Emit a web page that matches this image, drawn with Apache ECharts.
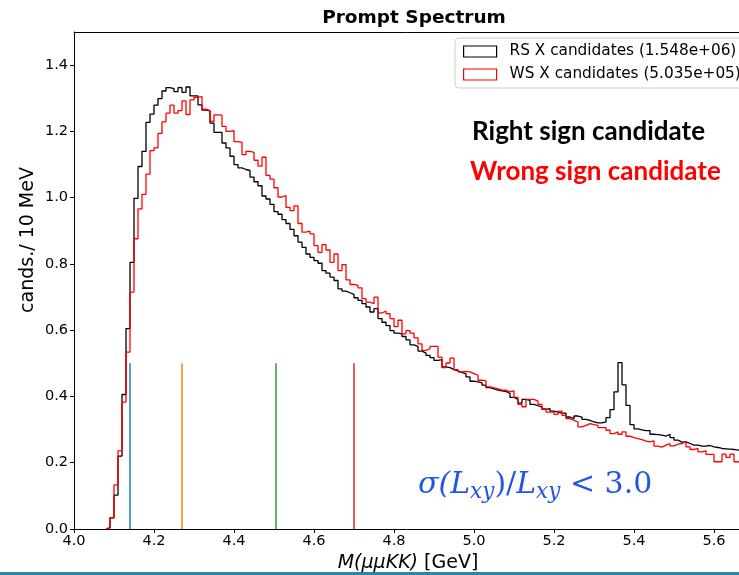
<!DOCTYPE html>
<html>
<head>
<meta charset="utf-8">
<script src="https://cdn.jsdelivr.net/npm/echarts@6/dist/echarts.min.js"></script>
<style>
html,body{margin:0;padding:0;background:#fff;}
#chart{width:739px;height:575px;}
</style>
</head>
<body>
<div id="chart"></div>
<script>
// ---- data ----
const binStart = 4.08;   // GeV, left edge of first bin
const binWidth = 0.01;   // 10 MeV
const rsCounts = [
  0.004,0.034,0.102,0.220,0.406,0.605,0.805,0.998,1.094,1.140,
  1.227,1.252,1.279,1.299,1.322,1.332,1.329,1.320,1.332,1.318,
  1.334,1.307,1.307,1.280,1.264,1.262,1.225,1.197,1.197,1.165,
  1.150,1.125,1.100,1.090,1.085,1.082,1.062,1.048,1.036,1.005,
  0.996,0.980,0.958,0.950,0.934,0.922,0.904,0.885,0.866,0.850,
  0.830,0.820,0.810,0.802,0.780,0.772,0.760,0.750,0.725,0.718,
  0.713,0.708,0.698,0.690,0.680,0.670,0.655,0.665,0.635,0.624,
  0.614,0.599,0.591,0.589,0.581,0.571,0.556,0.551,0.537,0.531,
  0.524,0.517,0.509,0.511,0.489,0.487,0.481,0.477,0.472,0.469,
  0.459,0.446,0.444,0.441,0.434,0.427,0.423,0.419,0.417,0.415,
  0.409,0.397,0.391,0.380,0.391,0.388,0.376,0.372,0.368,0.361,
  0.363,0.356,0.353,0.350,0.350,0.338,0.333,0.341,0.338,0.331,
  0.328,0.323,0.320,0.320,0.323,0.336,0.360,0.414,0.502,0.435,
  0.373,0.315,0.302,0.299,0.297,0.297,0.286,0.285,0.283,0.280,
  0.286,0.276,0.268,0.262,0.263,0.258,0.253,0.253,0.250,0.250,
  0.252,0.248,0.246,0.243,0.242,0.241,0.240,0.238,0.238
];
const wsCounts = [
  0.003,0.034,0.133,0.236,0.383,0.534,0.715,0.876,0.966,1.010,
  1.071,1.142,1.150,1.194,1.229,1.255,1.279,1.255,1.263,1.292,
  1.251,1.295,1.303,1.305,1.267,1.263,1.230,1.250,1.249,1.215,
  1.200,1.202,1.169,1.167,1.130,1.140,1.137,1.113,1.095,1.122,
  1.067,1.056,1.030,1.002,1.006,0.971,0.961,0.975,0.922,0.896,
  0.899,0.891,0.855,0.835,0.858,0.842,0.805,0.830,0.780,0.798,
  0.752,0.738,0.735,0.728,0.695,0.685,0.680,0.700,0.652,0.658,
  0.650,0.635,0.611,0.630,0.589,0.599,0.591,0.577,0.559,0.539,
  0.544,0.551,0.551,0.519,0.487,0.501,0.516,0.481,0.474,0.476,
  0.474,0.469,0.464,0.449,0.447,0.429,0.426,0.423,0.419,0.419,
  0.414,0.417,0.397,0.376,0.369,0.391,0.391,0.386,0.376,0.363,
  0.353,0.353,0.346,0.356,0.343,0.333,0.328,0.323,0.308,0.313,
  0.318,0.315,0.313,0.306,0.306,0.298,0.288,0.293,0.286,0.293,
  0.280,0.276,0.273,0.270,0.265,0.263,0.266,0.250,0.247,0.253,
  0.258,0.251,0.256,0.258,0.263,0.248,0.240,0.243,0.233,0.236,
  0.225,0.225,0.203,0.203,0.226,0.216,0.226,0.203,0.200
];
const seriesNames = ['RS X candidates (1.548e+06)', 'WS X candidates (5.035e+05)'];
const cutPositions = [4.14, 4.27, 4.505, 4.70];
const cutHeight = 0.5;
const xTicks = [4.0, 4.2, 4.4, 4.6, 4.8, 5.0, 5.2, 5.4, 5.6];
const yTicks = [0.0, 0.2, 0.4, 0.6, 0.8, 1.0, 1.2, 1.4];

// ---- build step histogram points ----
function stepPoints(counts) {
  const pts = [[binStart, 0]];
  for (let i = 0; i < counts.length; i++) {
    pts.push([+(binStart + i * binWidth).toFixed(3), counts[i]]);
  }
  pts.push([+(binStart + counts.length * binWidth).toFixed(3), counts[counts.length - 1]]);
  return pts;
}

const cutColors = ['rgba(31,119,180,0.75)', 'rgba(255,127,14,0.75)', 'rgba(44,160,44,0.75)', 'rgba(214,39,40,0.75)'];
const cutSeries = cutPositions.map((x, i) => ({
  type: 'line', data: [[x, 0], [x, cutHeight]], symbol: 'none', silent: true,
  lineStyle: {color: cutColors[i], width: 2}, z: 1
}));

const isTick = (v, arr) => arr.some(t => Math.abs(t - v) < 1e-6);
const X_MIN = 4.0, X_MAX = 5.6625;

const chart = echarts.init(document.getElementById('chart'), null, {renderer: 'canvas'});
chart.setOption({
  animation: false,
  backgroundColor: '#fff',
  grid: {left: 74, top: 32, width: 665, height: 497, show: false, outerBoundsMode: 'none', containLabel: false},
  xAxis: [{
    type: 'value', min: X_MIN, max: X_MAX, interval: 0.2,
    axisLine: {show: true, lineStyle: {color: '#000', width: 1}},
    axisTick: {show: true, length: 4, lineStyle: {color: '#000'}, customValues: xTicks},
    axisLabel: {fontFamily: 'DejaVu Sans', fontSize: 14.5, color: '#000', margin: 5, customValues: xTicks,
      formatter: v => isTick(v, xTicks) ? v.toFixed(1) : ''},
    splitLine: {show: false}
  }, {
    type: 'value', position: 'top', min: X_MIN, max: X_MAX,
    axisLine: {show: true, onZero: false, lineStyle: {color: '#000', width: 1}},
    axisTick: {show: false}, axisLabel: {show: false}, splitLine: {show: false}
  }],
  yAxis: {
    type: 'value', min: 0, max: 1.5, interval: 0.2,
    axisLine: {show: true, lineStyle: {color: '#000', width: 1}},
    axisTick: {show: true, length: 4, lineStyle: {color: '#000'}, customValues: yTicks},
    axisLabel: {fontFamily: 'DejaVu Sans', fontSize: 14.5, color: '#000', margin: 6, customValues: yTicks,
      formatter: v => isTick(v, yTicks) ? v.toFixed(1) : ''},
    splitLine: {show: false}
  },
  legend: {
    left: 455, top: 38, orient: 'vertical',
    itemWidth: 33, itemHeight: 11, itemGap: 8,
    padding: [6, 12, 6, 8],
    backgroundColor: 'rgba(255,255,255,0.85)', borderColor: '#cccccc', borderWidth: 1, borderRadius: 4,
    textStyle: {fontFamily: 'DejaVu Sans', fontSize: 15.3, color: '#000', padding: [0, 0, 0, 8]},
    data: [
      {name: seriesNames[0], icon: 'rect', itemStyle: {color: '#fff', borderColor: '#000', borderWidth: 1.2}},
      {name: seriesNames[1], icon: 'rect', itemStyle: {color: '#fff', borderColor: '#ff0000', borderWidth: 1.2}}
    ]
  },
  graphic: [
    {type: 'text', x: 414, y: 18, style: {text: 'Prompt Spectrum', font: 'bold 18.5px "DejaVu Sans"', fill: '#000', align: 'center', verticalAlign: 'middle'}},
    {type: 'text', x: 28, y: 240, rotation: Math.PI / 2, style: {text: 'cands./ 10 MeV', font: '19px "DejaVu Sans"', fill: '#000', align: 'center', verticalAlign: 'middle'}},
    {type: 'text', x: 408, y: 563, style: {
      text: '{i|M(μμKK)} [GeV]', align: 'center', verticalAlign: 'middle',
      font: '19px "DejaVu Sans"', fill: '#000',
      rich: {i: {fontStyle: 'italic', fontFamily: 'DejaVu Sans', fontSize: 19, fill: '#000'}}
    }},
    {type: 'text', x: 472, y: 132, style: {text: 'Right sign candidate', font: 'bold 26px Lato', fill: '#000', align: 'left', verticalAlign: 'middle'}},
    {type: 'text', x: 470, y: 172, style: {text: 'Wrong sign candidate', font: 'bold 26px Lato', fill: '#ff0000', align: 'left', verticalAlign: 'middle'}},
    {type: 'text', x: 418, y: 485, style: {
      text: '{a|σ(}{b|L}{s|xy}{u|)/}{b|L}{s|xy}{u| < 3.0}', align: 'left', verticalAlign: 'middle',
      rich: {
        a: {fontFamily: 'DejaVu Serif', fontSize: 30, fontStyle: 'italic', fill: '#2155e8'},
        b: {fontFamily: 'DejaVu Serif', fontSize: 30, fontStyle: 'italic', fill: '#2155e8'},
        u: {fontFamily: 'DejaVu Serif', fontSize: 30, fill: '#2155e8'},
        s: {fontFamily: 'DejaVu Serif', fontSize: 21.5, fontStyle: 'italic', fill: '#2155e8', padding: [15, 0, 0, 0]}
      }
    }},
    {type: 'rect', shape: {x: 0, y: 572, width: 739, height: 3}, style: {fill: '#2a86a6'}}
  ],
  series: [
    {name: seriesNames[0], type: 'line', step: 'end', data: stepPoints(rsCounts), symbol: 'none',
      lineStyle: {color: '#000', width: 1.3}, itemStyle: {color: '#000'}, z: 3, clip: true},
    {name: seriesNames[1], type: 'line', step: 'end', data: stepPoints(wsCounts), symbol: 'none',
      lineStyle: {color: '#ff0000', width: 1.3}, itemStyle: {color: '#ff0000'}, z: 4, clip: true}
  ].concat(cutSeries)
});
</script>
</body>
</html>
